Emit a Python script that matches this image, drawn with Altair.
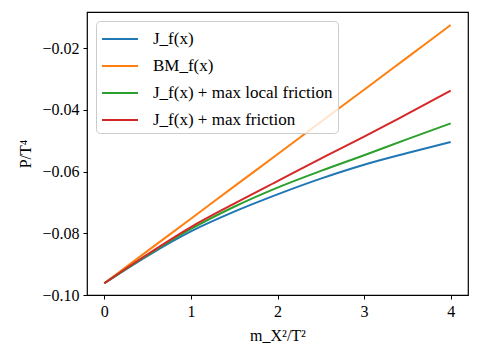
import altair as alt
import pandas as pd

x_vals = [0, 0.5, 1, 1.5, 2, 2.5, 3, 3.5, 4]
jf = [-0.0962, -0.0873, -0.0794, -0.0730, -0.0674, -0.0623, -0.0578, -0.0540, -0.0504]
bmf = [-0.0962, -0.0857, -0.0753, -0.0648, -0.0544, -0.0439, -0.0335, -0.0230, -0.0125]
jf_local = [-0.0962, -0.0870, -0.0786, -0.0714, -0.0652, -0.0598, -0.0547, -0.0495, -0.0444]
jf_max = [-0.0962, -0.0868, -0.0780, -0.0704, -0.0631, -0.0558, -0.0487, -0.0413, -0.0338]

names = ["J_f(x)", "BM_f(x)", "J_f(x) + max local friction", "J_f(x) + max friction"]
colors = ["#1f77b4", "#ff7f0e", "#2ca02c", "#d62728"]
series = [jf, bmf, jf_local, jf_max]

rows = []
for i, (n, s) in enumerate(zip(names, series)):
    for xv, yv in zip(x_vals, s):
        rows.append({"x": xv, "y": yv, "series": n, "order": i})
df = pd.DataFrame(rows)

font = "Liberation Serif"

chart = alt.Chart(df).mark_line(strokeWidth=2, clip=True, interpolate="monotone").encode(
    x=alt.X("x:Q", scale=alt.Scale(domain=[-0.2, 4.2], nice=False, zero=False),
            axis=alt.Axis(title="m_X²/T²", values=[0, 1, 2, 3, 4], format="d", grid=False,
                          labelFont=font, titleFont=font)),
    y=alt.Y("y:Q", scale=alt.Scale(domain=[-0.1, -0.0083], nice=False, zero=False),
            axis=alt.Axis(title="P/T⁴", values=[-0.1, -0.08, -0.06, -0.04, -0.02], format=".2f", grid=False,
                          labelFont=font, titleFont=font)),
    color=alt.Color("series:N", scale=alt.Scale(domain=names, range=colors),
                    legend=alt.Legend(title=None, orient="top-left", symbolType="M-1,0L2,0",
                                      symbolStrokeWidth=2, symbolSize=576, labelFontSize=17,
                                      labelFont=font, labelLimit=400, rowPadding=6, padding=5, offset=9,
                                      fillColor="rgba(255,255,255,0.8)", strokeColor="#cccccc",
                                      cornerRadius=4, labelOffset=26)),
    order=alt.Order("order:Q"),
    detail="series:N",
).properties(width=381, height=283, padding={"left": 9, "top": 4, "right": 5, "bottom": 5}).configure(
    font=font, style={"guide-label": {"font": font}, "guide-title": {"font": font}}
).configure_view(
    stroke="black", strokeWidth=1.2
).configure_axis(
    domain=False, tickColor="black", tickSize=4, labelFont=font, titleFont=font,
    labelFontSize=16, titleFontSize=16, labelColor="black", titleColor="black",
    titleFontWeight="normal", labelPadding=4,
).configure_axisY(titlePadding=8).configure_axisX(titlePadding=8)

chart.save("out.html", embed_options={"renderer": "svg", "actions": False})
